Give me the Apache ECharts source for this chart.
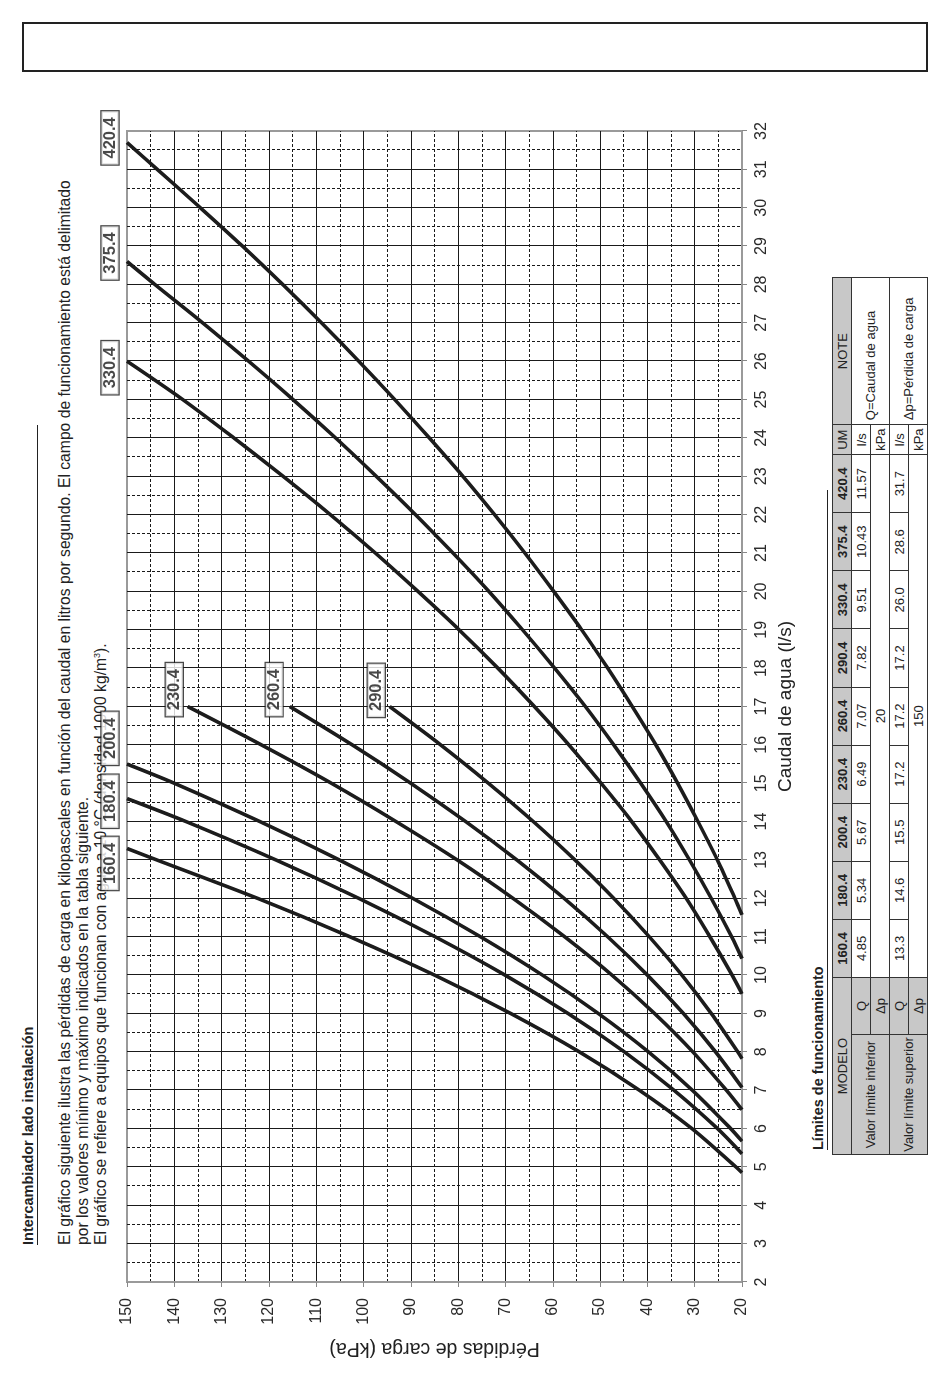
<!DOCTYPE html>
<html>
<head>
<meta charset="utf-8">
<title>Intercambiador lado instalación</title>
<script src="https://cdn.jsdelivr.net/npm/echarts@6/dist/echarts.min.js"></script>
<style>
html,body{margin:0;padding:0;background:#fff;}
body{width:950px;height:1379px;overflow:hidden;position:relative;font-family:"Liberation Sans",Arial,sans-serif;color:#222;}
/* the sheet is drawn landscape and turned a quarter left */
#page{position:absolute;left:0;top:0;width:1379px;height:950px;transform-origin:0 0;transform:rotate(-90deg) translate(-1379px,0);}
#chart{position:absolute;left:0;top:0;width:1379px;height:950px;z-index:2;}
.frame{position:absolute;left:1307px;top:22px;width:50px;height:906px;border:2px solid #222;box-sizing:border-box;}
.title{position:absolute;font-weight:bold;font-size:14.5px;white-space:nowrap;line-height:16px;}
.rule{position:absolute;height:0;border-top:1.5px solid #222;}
.txt{position:absolute;left:134px;top:56px;font-size:15.7px;line-height:18px;white-space:nowrap;z-index:1;}
#limits{position:absolute;left:224px;top:832px;width:877px;border-collapse:collapse;table-layout:fixed;font-size:13px;border:1.5px solid #222;}
#limits td,#limits th{border:1px solid #333;height:18px;padding:0;text-align:center;font-weight:normal;white-space:nowrap;line-height:15px;}
#limits th{background:#c8c8c8;}
#limits th.m{font-weight:bold;}
#limits td.g{background:#c8c8c8;}
</style>
</head>
<body>
<div id="page">
	<div class="frame"></div>
	<div class="title" style="left:134px;top:20px;">Intercambiador lado instalación</div>
	<div class="rule" style="left:134px;top:37px;width:820px;"></div>
	<div class="txt">El gráfico siguiente ilustra las pérdidas de carga en kilopascales en función del caudal en litros por segundo. El campo de funcionamiento está delimitado<br>por los valores mínimo y máximo indicados en la tabla siguiente.<br>El gráfico se refiere a equipos que funcionan con agua a 10 °C (densidad 1000 kg/m<sup style="font-size:9px;line-height:0">3</sup>).</div>
	<div id="chart"></div>
	<div class="title" style="left:229px;top:810px;">Límites de funcionamiento</div>
	<div class="rule" style="left:229px;top:827px;width:660px;"></div>
	<table id="limits"></table>
</div>
<script>
// modelos y limites (tabla)
var models = ['160.4', '180.4', '200.4', '230.4', '260.4', '290.4', '330.4', '375.4', '420.4'];
var qMin = ['4.85', '5.34', '5.67', '6.49', '7.07', '7.82', '9.51', '10.43', '11.57'];
var qMax = ['13.3', '14.6', '15.5', '17.2', '17.2', '17.2', '26.0', '28.6', '31.7'];
var dpMin = '20';
var dpMax = '150';

// curvas [caudal l/s, perdida kPa]
var c160 = [[4.85,20],[5,21.3],[6,30.6],[7,41.7],[8,54.4],[9,68.9],[10,85.0],[11,102.9],[12,122.4],[13,143.7],[13.3,150]];
var c180 = [[5.34,20],[6,25.2],[7,34.4],[8,44.9],[9,56.8],[10,70.1],[11,84.9],[12,101.0],[13,118.5],[14,137.5],[14.6,150]];
var c200 = [[5.67,20],[6,22.4],[7,30.5],[8,39.8],[9,50.4],[10,62.2],[11,75.3],[12,89.6],[13,105.1],[14,121.9],[15,140.0],[15.5,150]];
var c230 = [[6.49,20],[7,23.3],[8,30.4],[9,38.5],[10,47.5],[11,57.5],[12,68.4],[13,80.2],[14,93.1],[15,106.8],[16,121.6],[17,137.2]];
var c260 = [[7.07,20],[8,25.6],[9,32.4],[10,40.0],[11,48.4],[12,57.6],[13,67.6],[14,78.4],[15,90.0],[16,102.4],[17,115.6]];
var c290 = [[7.82,20],[8,20.9],[9,26.5],[10,32.7],[11,39.6],[12,47.1],[13,55.3],[14,64.1],[15,73.6],[16,83.7],[17,94.5]];
var c330 = [[9.51,20],[10,22.1],[11,26.8],[12,31.8],[13,37.4],[14,43.3],[15,49.8],[16,56.6],[17,63.9],[18,71.6],[19,79.8],[20,88.5],[21,97.5],[22,107.0],[23,117.0],[24,127.4],[25,138.2],[26,150]];
var c375 = [[10.43,20],[11,22.2],[12,26.5],[13,31.1],[14,36.0],[15,41.4],[16,47.1],[17,53.1],[18,59.6],[19,66.4],[20,73.5],[21,81.1],[22,89.0],[23,97.3],[24,105.9],[25,114.9],[26,124.3],[27,134.0],[28,144.1],[28.6,150]];
var c420 = [[11.57,20],[12,21.5],[13,25.2],[14,29.3],[15,33.6],[16,38.2],[17,43.2],[18,48.4],[19,53.9],[20,59.8],[21,65.9],[22,72.3],[23,79.0],[24,86.1],[25,93.4],[26,101.0],[27,108.9],[28,117.1],[29,125.6],[30,134.5],[31,143.6],[31.7,150]];
var curves = [c160, c180, c200, c230, c260, c290, c330, c375, c420];

var Sheet = {
	init:function(){
		this.buildTable();
		this.drawChart();
	},
	buildTable:function(){
		var h = '<colgroup><col style="width:120px"><col style="width:57px">';
		for(var i=0;i<models.length;i++){ h += '<col style="width:58.1px">'; }
		h += '<col style="width:30px"><col style="width:147px"></colgroup>';
		h += '<tr><th colspan="2">MODELO</th>';
		for(var i=0;i<models.length;i++){ h += '<th class="m">'+models[i]+'</th>'; }
		h += '<th>UM</th><th>NOTE</th></tr>';
		h += '<tr><td class="g" rowspan="2">Valor límite inferior</td><td class="g">Q</td>';
		for(var i=0;i<qMin.length;i++){ h += '<td>'+qMin[i]+'</td>'; }
		h += '<td>l/s</td><td rowspan="2" style="text-align:left;padding-left:4px">Q=Caudal de agua</td></tr>';
		h += '<tr><td class="g">&Delta;p</td><td colspan="9">'+dpMin+'</td><td>kPa</td></tr>';
		h += '<tr><td class="g" rowspan="2">Valor límite superior</td><td class="g">Q</td>';
		for(var i=0;i<qMax.length;i++){ h += '<td>'+qMax[i]+'</td>'; }
		h += '<td>l/s</td><td rowspan="2" style="text-align:left;padding-left:4px">&Delta;p=Pérdida de carga</td></tr>';
		h += '<tr><td class="g">&Delta;p</td><td colspan="9">'+dpMax+'</td><td>kPa</td></tr>';
		document.getElementById('limits').innerHTML = h;
	},
	drawChart:function(){
		var myChart = echarts.init(document.getElementById('chart'));
		// centro de cada etiqueta [caudal, kPa]
		var labelPos = [[12.91,153.6],[14.53,153.6],[16.17,153.6],[17.44,140.0],[17.44,118.9],[17.42,97.3],[25.83,153.6],[28.82,153.6],[31.82,153.6]];
		var series = [];
		for(var i=0;i<curves.length;i++){
			series.push({
				name:models[i],
				type:'line',
				data:curves[i],
				smooth:0.3,
				symbol:'none',
				clip:false,
				lineStyle:{color:'#1c1c1c',width:3.6},
				z:3
			});
		}
		var labelData = [];
		for(var i=0;i<models.length;i++){
			labelData.push({value:labelPos[i], name:models[i]});
		}
		series.push({
			name:'etiquetas',
			type:'scatter',
			data:labelData,
			symbolSize:0,
			clip:false,
			silent:true,
			z:5,
			label:{
				show:true,
				position:'inside',
				formatter:'{b}',
				fontFamily:'Liberation Sans, Arial, sans-serif',
				fontSize:16.5,
				fontWeight:'bold',
				color:'#1a1a1a',
				backgroundColor:'#fff',
				borderColor:'#1a1a1a',
				borderWidth:1.2,
				padding:[1,6,0,6],
				lineHeight:16
			}
		});
		var option = {
			animation:false,
			textStyle:{fontFamily:'Liberation Sans, Arial, sans-serif'},
			grid:{
				left:97, right:131, top:127, bottom:208,
				show:true, borderColor:'#9a9a9a', borderWidth:2
			},
			xAxis:{
				type:'value',
				min:2, max:32, interval:1,
				name:'Caudal de agua (l/s)',
				nameLocation:'middle',
				nameGap:34,
				nameTextStyle:{fontSize:19,color:'#222'},
				axisLine:{lineStyle:{color:'#9a9a9a',width:2}},
				axisTick:{show:true,length:5,lineStyle:{color:'#888'}},
				axisLabel:{fontSize:16,color:'#2a2a2a',margin:12},
				splitLine:{show:true,showMinLine:false,showMaxLine:false,lineStyle:{color:'#1a1a1a',width:1}},
				minorTick:{show:false,splitNumber:2},
				minorSplitLine:{show:true,lineStyle:{color:'#1a1a1a',width:1,type:[3,2]}}
			},
			yAxis:{
				type:'value',
				min:20, max:150, interval:10,
				name:'Pérdidas de carga (kPa)',
				nameLocation:'middle',
				nameGap:56,
				nameTextStyle:{fontSize:19.5,color:'#222'},
				axisLine:{show:true,lineStyle:{color:'#9a9a9a',width:2}},
				axisTick:{show:true,length:5,lineStyle:{color:'#888'}},
				axisLabel:{fontSize:16,color:'#2a2a2a',margin:16},
				splitLine:{show:true,showMinLine:false,showMaxLine:false,lineStyle:{color:'#1a1a1a',width:1}},
				minorTick:{show:false,splitNumber:2},
				minorSplitLine:{show:true,lineStyle:{color:'#1a1a1a',width:1,type:[3,2]}}
			},
			series:series
		};
		myChart.setOption(option);
	}
};

Sheet.init();
</script>
</body>
</html>
